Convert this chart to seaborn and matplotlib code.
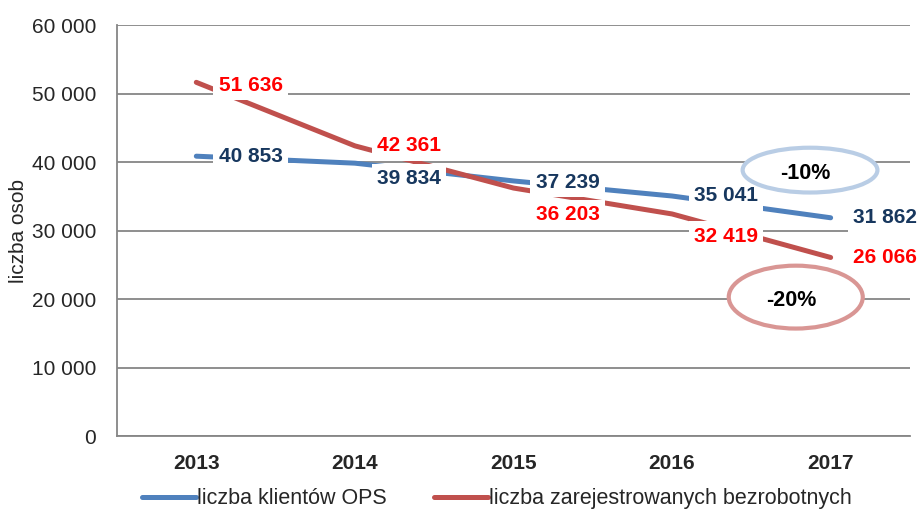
import seaborn as sns
import pandas as pd
import matplotlib
matplotlib.use("Agg")
from matplotlib import pyplot as plt
from matplotlib.patches import Ellipse
from matplotlib.lines import Line2D

years = ["2013", "2014", "2015", "2016", "2017"]
klienci_ops = [40853, 39834, 37239, 35041, 31862]
bezrobotni = [51636, 42361, 36203, 32419, 26066]
series_names = ["liczba klientów OPS", "liczba zarejestrowanych bezrobotnych"]
change_labels = ["-10%", "-20%"]
y_ticks = [0, 10000, 20000, 30000, 40000, 50000, 60000]

# label vertical shifts (points, downward) so the numbers do not overlap
shift_ops = [0, 11, 1, 0, 0]
shift_bez = [2, 0, 19, 16, 0]

sns.set_style("white")
plt.rcParams["font.family"] = ["Liberation Sans", "DejaVu Sans"]

df = pd.DataFrame({
    "rok": list(range(len(years))) * 2,
    "liczba": klienci_ops + bezrobotni,
    "seria": [series_names[0]] * len(years) + [series_names[1]] * len(years),
})
line_colors = {series_names[0]: "#4f81bd", series_names[1]: "#c0504d"}
text_colors = ["#17375e", "#ff0000"]

fig = plt.figure(figsize=(9.17, 5.12), dpi=100)
ax = fig.add_axes([0.1276, 0.1484, 0.8647, 0.8027])

sns.lineplot(data=df, x="rok", y="liczba", hue="seria", palette=line_colors,
             linewidth=3.6, ax=ax, legend=False, zorder=2)
for ln in ax.lines:
    ln.set_solid_capstyle("round")

for vals, shifts, col in [(klienci_ops, shift_ops, text_colors[0]),
                          (bezrobotni, shift_bez, text_colors[1])]:
    for i, v in enumerate(vals):
        ax.annotate(f"{v:,}".replace(",", " "), (i, v), xytext=(16, -shifts[i]),
                    textcoords="offset points", ha="left", va="center",
                    fontsize=15, fontweight="bold", color=col, zorder=4,
                    bbox=dict(boxstyle="square,pad=0.25", fc="white", ec="none"),
                    annotation_clip=False)

# ellipses with the percentage change
for (cx, cy, w, h), edge, txt in [((0.874, 0.647, 0.170, 0.109), "#b9cde5", change_labels[0]),
                                  ((0.856, 0.338, 0.169, 0.153), "#d99694", change_labels[1])]:
    ax.add_patch(Ellipse((cx, cy), w, h, transform=ax.transAxes, fc="white",
                         ec=edge, lw=3, zorder=5))
    ax.text(cx - 0.006, cy - 0.008, txt, transform=ax.transAxes, ha="center", va="center",
            fontsize=15.5, fontweight="bold", color="black", zorder=6)

ax.set_xlim(-0.5, len(years) - 0.5)
ax.set_ylim(0, 60000)
ax.set_yticks(y_ticks)
ax.set_yticklabels([f"{t:,}".replace(",", " ") for t in y_ticks], fontsize=15)
ax.set_xticks(range(len(years)))
ax.set_xticklabels(years, fontsize=15, fontweight="bold")
ax.set_xticks([i - 0.5 for i in range(len(years) + 1)], minor=True)
ax.tick_params(axis="x", which="major", length=0, pad=13)
ax.tick_params(axis="x", which="minor", length=6, color="#868686", width=1.2, direction="out")
ax.tick_params(axis="y", length=6, color="#868686", width=1.2, direction="out", pad=9)
ax.yaxis.grid(True, color="#868686", linewidth=1.3)
ax.set_axisbelow(True)
ax.set_xlabel("")
ax.set_ylabel("liczba osob", fontsize=15, labelpad=3)
for s in ["top", "right"]:
    ax.spines[s].set_visible(False)
for s in ["left", "bottom"]:
    ax.spines[s].set_color("#868686")
    ax.spines[s].set_linewidth(1.3)

handles = [Line2D([0], [0], color=line_colors[n], lw=3.6, solid_capstyle="round")
           for n in series_names]
fig.legend(handles, series_names, loc="center", bbox_to_anchor=(0.542, 0.026),
           ncol=2, frameon=False, fontsize=15.5, handlelength=2.5,
           handletextpad=0.05, columnspacing=2.2, borderpad=0)

fig.savefig("out.png", dpi=100)
